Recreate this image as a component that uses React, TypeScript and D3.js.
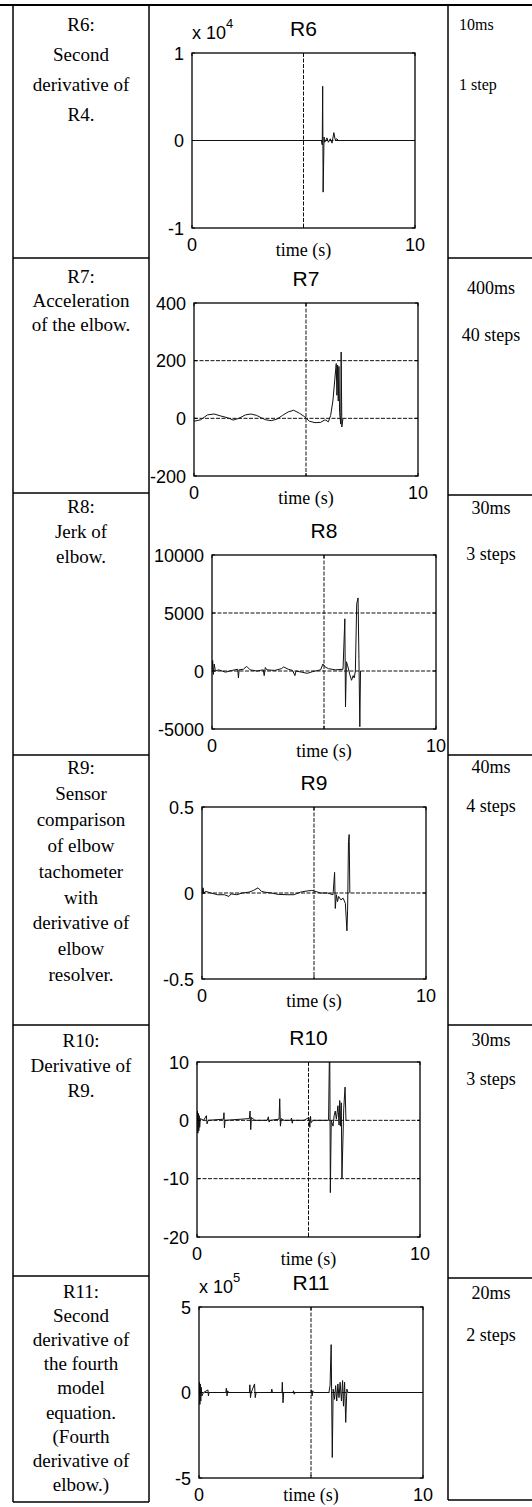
import React, { useEffect, useRef } from "react";
import * as d3 from "d3";

// text of the table
const leftText = [
  ["R6:", "Second", "derivative of", "R4."],
  ["R7:", "Acceleration", "of the elbow."],
  ["R8:", "Jerk of", "elbow."],
  ["R9:", "Sensor", "comparison", "of elbow", "tachometer", "with", "derivative of", "elbow", "resolver."],
  ["R10:", "Derivative of", "R9."],
  ["R11:", "Second", "derivative of", "the fourth", "model", "equation.", "(Fourth", "derivative of", "elbow.)"],
];
const rightMs = ["10ms", "400ms", "30ms", "40ms", "30ms", "20ms"];
const rightSteps = ["1 step", "40 steps", "3 steps", "4 steps", "3 steps", "2 steps"];

const titles = ["R6", "R7", "R8", "R9", "R10", "R11"];
const exponents = ["4", "", "", "", "", "5"];
const xTicks = [0, 5, 10];
const xTickLabels = ["0", "", "10"];
const yTicksR6 = [-1, 0, 1];
const yTicksR7 = [-200, 0, 200, 400];
const yTicksR8 = [-5000, 0, 5000, 10000];
const yTicksR9 = [-0.5, 0, 0.5];
const yTicksR10 = [-20, -10, 0, 10];
const yTicksR11 = [-5, 0, 5];

// series, [time (s), value]  (R6 in 1e4, R11 in 1e5)
const r6Series = [
  [0, 0], [5.8, 0], [5.84, -0.05], [5.86, 0.62], [5.88, -0.59], [5.9, -0.3], [5.92, 0.04],
  [5.95, -0.02], [6.0, 0], [6.05, 0.03], [6.12, -0.02], [6.2, 0.02], [6.28, -0.03],
  [6.36, 0.09], [6.42, 0.01], [6.5, 0.02], [6.56, 0], [10, 0],
];
const r7Series = [
  [0, -10], [0.3, -5], [0.6, 12], [0.9, 15], [1.2, 8], [1.5, 2], [1.75, -6], [2.0, 0],
  [2.3, 12], [2.55, 15], [2.8, 10], [3.0, 2], [3.2, -5], [3.45, -8], [3.7, -3], [3.95, 10],
  [4.2, 22], [4.45, 28], [4.7, 18], [4.95, 5], [5.15, -10], [5.4, -15], [5.65, -14],
  [5.85, -5], [6.0, -12], [6.1, 10], [6.2, 60], [6.28, 130], [6.35, 190], [6.38, 80],
  [6.41, 185], [6.44, 60], [6.47, 180], [6.5, 20], [6.55, -20], [6.57, 230], [6.6, -30], [6.65, 0],
];
const r8Series = [
  [0, 0], [0.03, 900], [0.06, -300], [0.1, 600], [0.15, 0], [0.3, 100], [0.6, -100],
  [0.9, 50], [1.15, 150], [1.18, -600], [1.21, 100], [1.4, 150], [1.55, 400], [1.7, 100],
  [2.0, 0], [2.29, 100], [2.33, -400], [2.38, 300], [2.45, 100], [2.8, 50], [3.1, 200],
  [3.2, 350], [3.4, 150], [3.6, 50], [3.7, -400], [3.75, 0], [4.0, -100], [4.25, -200],
  [4.5, -50], [4.85, 100], [4.95, 600], [5.05, 350], [5.2, 200], [5.5, 100], [5.85, 150],
  [5.93, 4500], [5.96, -3100], [6.0, 800], [6.05, 500], [6.15, -300], [6.23, -800],
  [6.3, -400], [6.35, -600], [6.4, 0], [6.46, 5800], [6.52, 6300], [6.56, 1000],
  [6.6, -4800], [6.63, 0],
];
const r9Series = [
  [0, 0], [0.05, 0.03], [0.08, -0.005], [0.15, 0.01], [0.4, 0], [0.7, -0.01], [1.0, -0.01],
  [1.2, -0.02], [1.3, -0.005], [1.55, -0.01], [1.8, 0], [2.1, 0.005], [2.3, 0.015],
  [2.5, 0.03], [2.65, 0.01], [2.8, 0.005], [3.1, 0], [3.4, -0.008], [3.8, -0.01],
  [4.1, -0.01], [4.4, 0.005], [4.6, 0.01], [4.9, 0.015], [5.1, 0.008], [5.3, 0], [5.6, 0],
  [5.85, -0.01], [5.92, 0.12], [5.95, -0.09], [6.0, -0.01], [6.05, -0.05], [6.1, -0.02],
  [6.2, -0.04], [6.3, -0.03], [6.4, -0.06], [6.47, -0.22], [6.5, -0.1], [6.54, 0.3],
  [6.57, 0.34], [6.6, 0],
];
const r10Series = [
  [0, 0], [0.02, 1.6], [0.04, -2.2], [0.06, 1.2], [0.08, -1.8], [0.1, 0.8], [0.12, -1.2],
  [0.15, 0.3], [0.3, 0], [0.42, 0.8], [0.45, -0.6], [0.5, 0], [1.19, 0.2], [1.21, 1.3],
  [1.23, -1.3], [1.26, 0], [2.35, 0.3], [2.38, 1.6], [2.41, -1.6], [2.44, 0.5], [2.6, 0],
  [3.15, 0], [3.2, 0.6], [3.23, -0.3], [3.3, 0], [3.68, 0.2], [3.71, 3.7], [3.74, -1.0],
  [3.78, 0.3], [3.9, 0], [4.2, 0], [4.24, 0.4], [4.27, -0.5], [4.3, 0], [4.8, 0],
  [5.02, 0.5], [5.06, -1.2], [5.09, 0.7], [5.12, -0.4], [5.2, 0], [5.9, 0], [5.95, 15],
  [5.98, -12.4], [6.02, 0], [6.1, -1], [6.15, 0.8], [6.2, 1.6], [6.25, 0.2], [6.32, 2.5],
  [6.37, -0.8], [6.4, 3.4], [6.43, -1.0], [6.47, 3.0], [6.5, -10], [6.58, 2], [6.64, 5.7],
  [6.68, 0], [6.72, 0],
];
const r11Series = [
  [0, 0], [0.02, 0.6], [0.04, -0.7], [0.06, 0.5], [0.08, -0.5], [0.1, 0.3], [0.13, -0.2],
  [0.2, 0], [0.4, 0.15], [0.42, -0.2], [0.45, 0], [1.2, 0], [1.22, 0.25], [1.25, -0.2],
  [1.28, 0.1], [1.32, 0], [2.25, 0], [2.27, 0.45], [2.3, -0.3], [2.33, 0], [2.48, 0.5],
  [2.51, -0.3], [2.55, 0], [3.22, 0], [3.25, 0.2], [3.28, 0], [3.7, 0], [3.72, 0.6],
  [3.75, -0.6], [3.78, 0], [4.2, 0], [4.22, 0.1], [4.25, -0.1], [4.3, 0], [5.0, 0],
  [5.02, 0.15], [5.05, -0.2], [5.08, 0.1], [5.11, 0], [5.8, 0], [5.85, 0.4], [5.9, 2.8],
  [5.95, -3.8], [5.99, 0.2], [6.05, -0.4], [6.1, 0.4], [6.15, -0.5], [6.2, 0.5],
  [6.25, -0.3], [6.3, 0.6], [6.36, -0.5], [6.41, 0.7], [6.45, -0.8], [6.5, 0.6],
  [6.55, -1.75], [6.6, 0.2], [6.65, 0], [10, 0],
];

const seriesList = [r6Series, r7Series, r8Series, r9Series, r10Series, r11Series];
const yTickList = [yTicksR6, yTicksR7, yTicksR8, yTicksR9, yTicksR10, yTicksR11];

// page layout (pixels)
const boxes = [
  [192, 415, 53, 228],
  [194, 418, 303, 476],
  [212, 436, 555, 729],
  [202, 426, 807, 979],
  [197, 420, 1062, 1237],
  [199, 423, 1307, 1478],
];
const leftSeps = [5, 258, 493, 755, 1025, 1276, 1502];
const leftFirst = [25, 277, 507, 768, 1041, 1292];
const leftStep = [30, 24, 25, 25.9, 25, 24.1];
const rightSeps = [5, 258, 495, 755, 1025, 1278, 1500];
const rightMsY = [25, 289, 509, 768, 1041, 1294];
const rightStepsY = [85, 336, 555, 807, 1080, 1336];

const SANS = "'Liberation Sans', Arial, sans-serif";
const SERIF = "'Liberation Serif', 'Times New Roman', serif";

function App() {
  const ref = useRef(null);

  useEffect(() => {
    const svg = d3.select(ref.current);
    svg.selectAll("*").remove();

    // charts
    seriesList.forEach(function (data, i) {
      const [x0, x1, y0, y1] = boxes[i];
      const ticks = yTickList[i];
      const x = d3.scaleLinear().domain([0, 10]).range([x0, x1]);
      const y = d3.scaleLinear().domain([ticks[0], ticks[ticks.length - 1]]).range([y1, y0]);
      const g = svg.append("g");

      g.append("clipPath").attr("id", "clip" + i)
        .append("rect").attr("x", x0).attr("y", y0).attr("width", x1 - x0).attr("height", y1 - y0);

      // grid
      xTicks.slice(1, -1).forEach(function (t) {
        g.append("line").attr("x1", x(t)).attr("x2", x(t)).attr("y1", y0).attr("y2", y1)
          .attr("stroke", "#111").attr("stroke-width", 1).attr("stroke-dasharray", "4,1.5");
      });
      ticks.slice(1, -1).forEach(function (v) {
        g.append("line").attr("x1", x0).attr("x2", x1).attr("y1", y(v)).attr("y2", y(v))
          .attr("stroke", "#111").attr("stroke-width", 1).attr("stroke-dasharray", "4,1.5");
      });

      // trace
      const line = d3.line().x(d => x(d[0])).y(d => y(d[1]));
      g.append("path").attr("d", line(data)).attr("fill", "none")
        .attr("stroke", "#111").attr("stroke-width", 1).attr("clip-path", "url(#clip" + i + ")");

      // box + inward ticks
      g.append("rect").attr("x", x0).attr("y", y0).attr("width", x1 - x0).attr("height", y1 - y0)
        .attr("fill", "none").attr("stroke", "#000").attr("stroke-width", 1.3);
      xTicks.forEach(function (t) {
        g.append("line").attr("x1", x(t)).attr("x2", x(t)).attr("y1", y1).attr("y2", y1 - 3).attr("stroke", "#000");
        g.append("line").attr("x1", x(t)).attr("x2", x(t)).attr("y1", y0).attr("y2", y0 + 3).attr("stroke", "#000");
      });
      ticks.forEach(function (v) {
        g.append("line").attr("x1", x0).attr("x2", x0 + 3).attr("y1", y(v)).attr("y2", y(v)).attr("stroke", "#000");
        g.append("line").attr("x1", x1).attr("x2", x1 - 3).attr("y1", y(v)).attr("y2", y(v)).attr("stroke", "#000");
      });

      // labels
      ticks.forEach(function (v) {
        g.append("text").attr("x", x0 - 8).attr("y", y(v) + 6.5).attr("text-anchor", "end")
          .attr("font-family", SANS).attr("font-size", 18).text(String(v));
      });
      xTicks.forEach(function (t, k) {
        if (!xTickLabels[k]) return;
        g.append("text").attr("x", x(t)).attr("y", y1 + 23).attr("text-anchor", "middle")
          .attr("font-family", SANS).attr("font-size", 18).text(xTickLabels[k]);
      });
      g.append("text").attr("x", (x0 + x1) / 2).attr("y", Math.min(y1 + 28, 1501)).attr("text-anchor", "middle")
        .attr("font-family", SERIF).attr("font-size", 18).text("time (s)");
      g.append("text").attr("x", (x0 + x1) / 2).attr("y", y0 - 17).attr("text-anchor", "middle")
        .attr("font-family", SANS).attr("font-size", 21).text(titles[i]);
      if (exponents[i]) {
        const ex = g.append("text").attr("x", x0).attr("y", y0 - 14)
          .attr("font-family", SANS).attr("font-size", 18);
        ex.append("tspan").text("x 10");
        ex.append("tspan").attr("dy", -11).attr("font-size", 13).text(exponents[i]);
      }
    });

    // table text
    leftText.forEach(function (lines, r) {
      lines.forEach(function (s, k) {
        svg.append("text").attr("x", 81).attr("y", leftFirst[r] + k * leftStep[r] + 6)
          .attr("text-anchor", "middle").attr("font-family", SERIF).attr("font-size", 19).text(s);
      });
    });
    rightMs.forEach(function (s, r) {
      const first = r === 0;
      svg.append("text").attr("x", first ? 459 : 491).attr("y", rightMsY[r] + 5)
        .attr("text-anchor", first ? "start" : "middle")
        .attr("font-family", SERIF).attr("font-size", first ? 16 : 18).text(s);
      svg.append("text").attr("x", first ? 459 : 491).attr("y", rightStepsY[r] + 5)
        .attr("text-anchor", first ? "start" : "middle")
        .attr("font-family", SERIF).attr("font-size", first ? 16 : 18).text(rightSteps[r]);
    });

    // table rules
    const rule = function (xa, ya, xb, yb, w) {
      svg.append("line").attr("x1", xa).attr("y1", ya).attr("x2", xb).attr("y2", yb)
        .attr("stroke", "#000").attr("stroke-width", w);
    };
    rule(0, 5, 532, 5, 2.2);
    rule(13, 5, 13, 1502, 1.5);
    rule(149, 5, 149, 1502, 1.5);
    rule(448, 5, 448, 1500, 1.5);
    leftSeps.slice(1).forEach(yy => rule(13, yy, 149, yy, 1.5));
    rightSeps.slice(1).forEach(yy => rule(448, yy, 532, yy, 1.5));
  }, []);

  return (
    <svg ref={ref} width={532} height={1507}
      style={{ position: "absolute", left: 0, top: 0, display: "block", background: "#fff" }} />
  );
}

export default App;
